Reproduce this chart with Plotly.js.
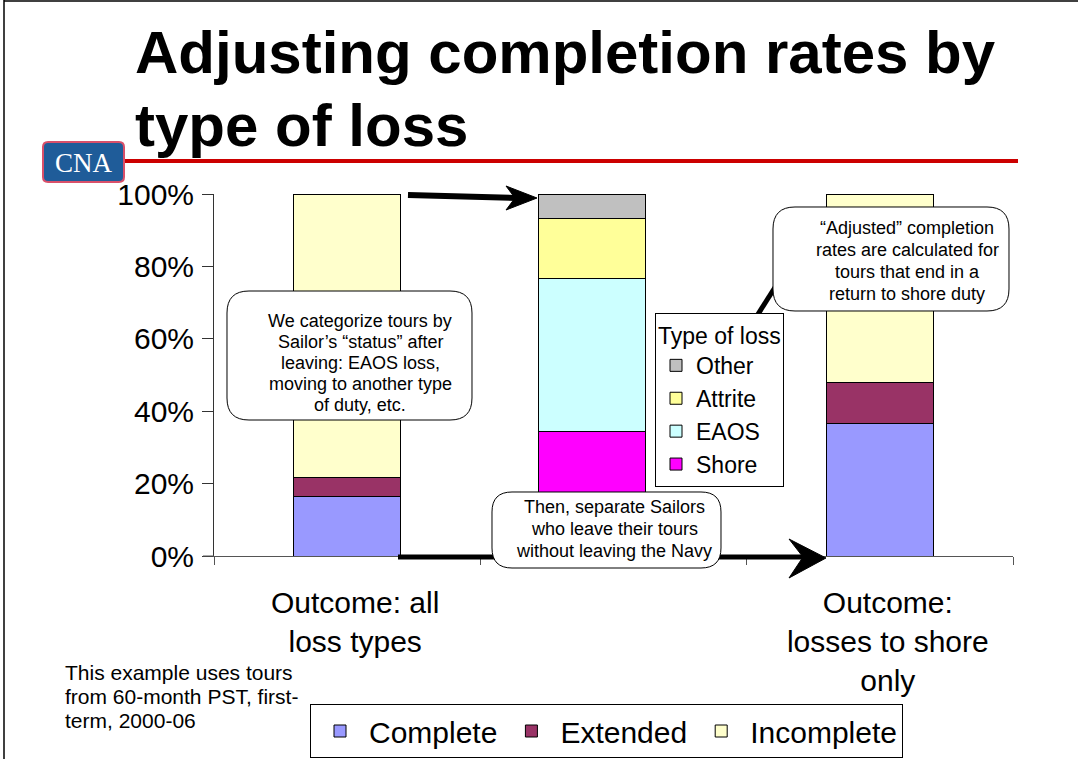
<!DOCTYPE html>
<html>
<head>
<meta charset="utf-8">
<script src="https://cdn.plot.ly/plotly-3.0.1.min.js"></script>
<style>html,body{margin:0;padding:0;background:#fff;} #chart{width:1078px;height:759px;}</style>
</head>
<body>
<div id="chart"></div>
<script>
// ---- data ----
const categories = ['Outcome: all<br>loss types', ' ', 'Outcome:<br>losses to shore<br>only'];
const complete   = [0.164, null, 0.365];
const extended   = [0.054, null, 0.113];
const incomplete = [0.782, null, 0.522];

const lossCategory = [' '];
const shore   = [0.343];
const eaos    = [0.424];
const attrite = [0.166];
const other   = [0.067];

const yTickVals = [0, 0.2, 0.4, 0.6, 0.8, 1.0];
const yTickText = ['0%', '20%', '40%', '60%', '80%', '100%'];

// ---- layout helpers (pixel -> paper) ----
const W = 1078, H = 759, L = 214, R = 1013, T = 194, B = 556;
const px = x => (x - L) / (R - L);
const py = y => (B - y) / (B - T);
const FONT = 'Arial, "Liberation Sans", sans-serif';

function rrect(x0, y0, x1, y1, r) {
  const P = (x, y) => px(x).toFixed(5) + ',' + py(y).toFixed(5);
  return 'M' + P(x0 + r, y0) + ' L' + P(x1 - r, y0) + ' Q' + P(x1, y0) + ' ' + P(x1, y0 + r) +
    ' L' + P(x1, y1 - r) + ' Q' + P(x1, y1) + ' ' + P(x1 - r, y1) +
    ' L' + P(x0 + r, y1) + ' Q' + P(x0, y1) + ' ' + P(x0, y1 - r) +
    ' L' + P(x0, y0 + r) + ' Q' + P(x0, y0) + ' ' + P(x0 + r, y0) + ' Z';
}
function poly(pts) {
  return 'M' + pts.map(p => px(p[0]).toFixed(5) + ',' + py(p[1]).toFixed(5)).join(' L') + ' Z';
}
function pline(x0, y0, x1, y1, w, color) {
  return {type: 'line', xref: 'paper', yref: 'paper', layer: 'above',
    x0: px(x0), y0: py(y0), x1: px(x1), y1: py(y1), line: {color: color || '#000', width: w}};
}
function ppath(path, fill, lineColor, lw) {
  return {type: 'path', xref: 'paper', yref: 'paper', layer: 'above', path: path,
    fillcolor: fill, line: {color: lineColor, width: lw}};
}
function txt(x, y, text, size, opts) {
  return Object.assign({xref: 'paper', yref: 'paper', x: px(x), y: py(y), text: text,
    showarrow: false, xanchor: 'center', yanchor: 'middle',
    font: {family: FONT, size: size, color: '#000'}}, opts || {});
}

// ---- traces ----
const barLine = {color: '#000', width: 1};
const bw = 0.402;
const traces = [
  {type: 'bar', name: 'Complete', x: categories, y: complete, width: bw,
   marker: {color: '#9999FF', line: barLine}, legend: 'legend', hoverinfo: 'skip'},
  {type: 'bar', name: 'Extended', x: categories, y: extended, width: bw,
   marker: {color: '#993366', line: barLine}, legend: 'legend', hoverinfo: 'skip'},
  {type: 'bar', name: 'Incomplete', x: categories, y: incomplete, width: bw,
   marker: {color: '#FFFFCC', line: barLine}, legend: 'legend', hoverinfo: 'skip'},
  {type: 'bar', name: 'Shore', x: lossCategory, y: shore, xaxis: 'x2', width: bw,
   marker: {color: '#FF00FF', line: barLine}, legend: 'legend2', hoverinfo: 'skip'},
  {type: 'bar', name: 'EAOS', x: lossCategory, y: eaos, xaxis: 'x2', width: bw,
   marker: {color: '#CCFFFF', line: barLine}, legend: 'legend2', hoverinfo: 'skip'},
  {type: 'bar', name: 'Attrite', x: lossCategory, y: attrite, xaxis: 'x2', width: bw,
   marker: {color: '#FFFF99', line: barLine}, legend: 'legend2', hoverinfo: 'skip'},
  {type: 'bar', name: 'Other', x: lossCategory, y: other, xaxis: 'x2', width: bw,
   marker: {color: '#C0C0C0', line: barLine}, legend: 'legend2', hoverinfo: 'skip'}
];

// ---- decorations ----
const shapes = [
  // slide border
  pline(4, 0, 4, H, 1.5, '#000'),
  pline(4, 1, W, 1, 1.5, '#000'),
  // x-axis extension to the left of the y-axis
  pline(203, 556, 214, 556, 1, '#555'),
  // arrow 2 (bottom): line then head
  pline(398, 557, 806, 557, 5),
  ppath(poly([[826, 558], [789, 539], [803, 557], [789, 578]]), '#000', '#000', 1),
  // arrow 1 (top)
  pline(408, 195, 518, 198, 6),
  ppath(poly([[537, 198], [506, 186], [515, 198], [506, 210]]), '#000', '#000', 1),
  // arrow 3 (to the callout on the right)
  pline(748, 330, 779, 281, 5),
  // callouts
  ppath(rrect(227, 291, 472, 420, 22), '#fff', '#000', 1),
  ppath(rrect(492, 492, 721, 568, 20), '#fff', '#000', 1),
  ppath(rrect(773, 207, 1009, 311, 22), '#fff', '#000', 1),
  // header red rule
  pline(62, 161, 1018, 161, 4, '#CC0000'),
  // CNA logo
  ppath(rrect(43, 142, 124, 182, 5), '#1F5C99', '#D9506A', 2)
];

const annotations = [
  txt(133, 53, 'Adjusting completion rates by', 60, {xanchor: 'left', font: {family: FONT, size: 60, color: '#000', weight: 'bold'}}),
  txt(133, 125, 'type of loss', 60, {xanchor: 'left', font: {family: FONT, size: 60, color: '#000', weight: 'bold'}}),
  txt(83.5, 163, 'CNA', 27, {font: {family: '"Liberation Serif", "Times New Roman", serif', size: 27, color: '#fff'}}),
  // callout 1
  txt(360, 321, 'We categorize tours by', 18),
  txt(360, 342, 'Sailor\u2019s \u201cstatus\u201d after', 18),
  txt(360, 363, 'leaving: EAOS loss,', 18),
  txt(360, 384, 'moving to another type', 18),
  txt(360, 405, 'of duty, etc.', 18),
  // callout 2
  txt(614, 507, 'Then, separate Sailors', 18),
  txt(614, 529, 'who leave their tours', 18),
  txt(614, 551, 'without leaving the Navy', 18),
  // callout 3
  txt(907, 228, '\u201cAdjusted\u201d completion', 18),
  txt(907, 250, 'rates are calculated for', 18),
  txt(907, 272, 'tours that end in a', 18),
  txt(907, 294, 'return to shore duty', 18),
  // note bottom-left
  txt(63, 672, 'This example uses tours', 21, {xanchor: 'left'}),
  txt(63, 696, 'from 60-month PST, first-', 21, {xanchor: 'left'}),
  txt(63, 720, 'term, 2000-06', 21, {xanchor: 'left'})
];

const layout = {
  width: W, height: H,
  margin: {l: L, r: W - R, t: T, b: H - B, pad: 0, autoexpand: false},
  paper_bgcolor: '#fff', plot_bgcolor: 'rgba(0,0,0,0)',
  font: {family: FONT, color: '#000'},
  barmode: 'stack',
  bargap: 0,
  xaxis: {
    type: 'category', categoryorder: 'array', categoryarray: categories,
    range: [-0.5, 2.5], fixedrange: true, automargin: false,
    showline: true, linecolor: '#555', linewidth: 1,
    ticks: 'outside', tickson: 'boundaries', ticklen: 8, tickcolor: '#555',
    showgrid: false, zeroline: false,
    tickfont: {family: FONT, size: 30, color: '#000'},
    ticklabelshift: 8, ticklabelstandoff: 20
  },
  xaxis2: {
    type: 'category', categoryorder: 'array', categoryarray: lossCategory,
    overlaying: 'x', visible: false, range: [-1.419, 1.581], fixedrange: true
  },
  yaxis: {
    range: [0, 1], fixedrange: true, automargin: false,
    tickvals: yTickVals, ticktext: yTickText,
    showline: true, linecolor: '#333', linewidth: 1,
    ticks: 'outside', ticklen: 11, tickcolor: '#333',
    showgrid: false, zeroline: false,
    tickfont: {family: FONT, size: 30, color: '#000'},
    ticklabelstandoff: 2
  },
  legend: {
    orientation: 'h', x: px(310), y: py(731), xanchor: 'left', yanchor: 'middle',
    bgcolor: '#fff', bordercolor: '#000', borderwidth: 1,
    font: {family: FONT, size: 30, color: '#000'},
    traceorder: 'normal', itemwidth: 48
  },
  legend2: {
    x: px(655), y: py(313), xanchor: 'left', yanchor: 'top',
    bgcolor: '#fff', bordercolor: '#000', borderwidth: 1,
    font: {family: FONT, size: 23, color: '#000'},
    title: {text: 'Type of loss', font: {family: FONT, size: 23, color: '#000'}},
    traceorder: 'reversed', tracegroupgap: 0
  },
  shapes: shapes,
  annotations: annotations,
  showlegend: true
};

Plotly.newPlot('chart', traces, layout, {displayModeBar: false, staticPlot: true});
</script>
</body>
</html>
